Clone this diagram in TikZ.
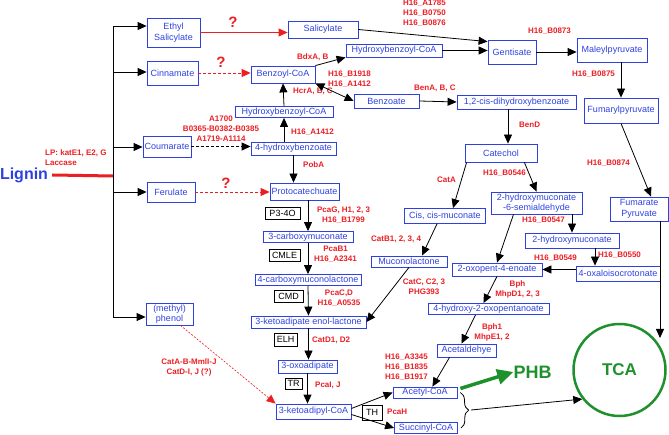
\documentclass[tikz,border=0pt]{standalone}
\usepackage{fontspec}
\setmainfont{Liberation Sans}
\usetikzlibrary{arrows.meta,positioning,decorations.pathreplacing}
\definecolor{metblue}{RGB}{45,65,225}
\definecolor{enzred}{RGB}{235,30,35}
\definecolor{tcagreen}{RGB}{30,145,45}

\begin{document}
\begin{tikzpicture}[x=1pt,y=-1pt,>={Triangle[length=9pt,width=8pt]},
	met/.style={draw=metblue,text=metblue,line width=0.8pt,inner sep=0pt,align=center,font=\fontsize{9}{10.5}\selectfont},
	cof/.style={draw=black,line width=0.6pt,inner sep=0pt,font=\fontsize{9}{10}\selectfont},
	enz/.style={text=enzred,inner sep=0pt,align=center,font=\bfseries\fontsize{8}{10}\selectfont},
	unk/.style={text=enzred,inner sep=0pt,font=\bfseries\fontsize{15}{15}\selectfont},
	flow/.style={->,line width=0.8pt},
	guess/.style={->,color=enzred,line width=0.8pt,dash pattern=on 3pt off 2pt}]
	\useasboundingbox (0,0) rectangle (669,435);

	\node[text=metblue,inner sep=0pt,font=\bfseries\fontsize{16}{16}\selectfont] (lignin) at (24,175) {Lignin};
	\node[met,minimum width=53pt,minimum height=29pt] (ethyl) at (173.5,32.5) {Ethyl\\Salicylate};
	\node[met,minimum width=51pt,minimum height=24pt] (cinn) at (172.5,73) {Cinnamate};
	\node[met,minimum width=48pt,minimum height=21pt] (coum) at (167,146.5) {Coumarate};
	\node[met,minimum width=48pt,minimum height=20pt] (ferul) at (171,192) {Ferulate};
	\node[met,minimum width=47pt,minimum height=22pt] (phenol) at (169.5,314) {(methyl)\\phenol};
	\node[met,minimum width=70pt,minimum height=17pt] (salic) at (323,29.5) {Salicylate};
	\node[met,minimum width=64pt,minimum height=17pt] (bzcoa) at (283,74.5) {Benzoyl-CoA};
	\node[met,minimum width=96pt,minimum height=13pt] (hbcoaA) at (394,50.5) {Hydroxybenzoyl-CoA};
	\node[met,minimum width=65pt,minimum height=14pt] (bzoate) at (386.5,101) {Benzoate};
	\node[met,minimum width=98pt,minimum height=11pt] (hbcoaB) at (284,112) {Hydroxybenzoyl-CoA};
	\node[met,minimum width=85pt,minimum height=13pt] (hba) at (293.5,148.5) {4-hydroxybenzoate};
	\node[met,minimum width=69pt,minimum height=17pt] (proto) at (304.5,191.5) {Protocatechuate};
	\node[met,minimum width=90pt,minimum height=11pt] (cmuc) at (308,237) {3-carboxymuconate};
	\node[met,minimum width=106pt,minimum height=11pt] (cmlac) at (308,280) {4-carboxymuconolactone};
	\node[met,minimum width=115pt,minimum height=12pt] (enol) at (308.5,322) {3-ketoadipate enol-lactone};
	\node[met,minimum width=59pt,minimum height=13pt] (oxo) at (307.5,366.5) {3-oxoadipate};
	\node[met,minimum width=75pt,minimum height=15pt] (kacoa) at (313.5,411.5) {3-ketoadipyl-CoA};
	\node[met,minimum width=64pt,minimum height=11pt] (accoa) at (425,392.5) {Acetyl-CoA};
	\node[met,minimum width=63pt,minimum height=11pt] (succoa) at (426,428) {Succinyl-CoA};
	\node[met,minimum width=48pt,minimum height=24pt] (gent) at (512,52) {Gentisate};
	\node[met,minimum width=70pt,minimum height=24pt] (maley) at (612,50) {Maleylpyruvate};
	\node[met,minimum width=74pt,minimum height=25pt] (fumaryl) at (621,110.5) {Fumarylpyruvate};
	\node[met,minimum width=119pt,minimum height=14pt] (dihb) at (516.5,102) {1,2-cis-dihydroxybenzoate};
	\node[met,minimum width=72pt,minimum height=18pt] (catechol) at (501,153) {Catechol};
	\node[met,minimum width=81pt,minimum height=15pt] (ccmuc) at (445,216) {Cis, cis-muconate};
	\node[met,minimum width=76pt,minimum height=11pt] (mlac) at (409,261.5) {Muconolactone};
	\node[met,minimum width=91pt,minimum height=22pt] (hmsa) at (536.5,203) {2-hydroxymuconate\\-6-semialdehyde};
	\node[met,minimum width=94pt,minimum height=15pt] (hmuc) at (572,240.5) {2-hydroxymuconate};
	\node[met,minimum width=84pt,minimum height=15pt] (oxalo) at (618,273.5) {4-oxaloisocrotonate};
	\node[met,minimum width=90pt,minimum height=13pt] (oxopent) at (497,269.5) {2-oxopent-4-enoate};
	\node[met,minimum width=121pt,minimum height=11pt] (hop) at (488.5,309) {4-hydroxy-2-oxopentanoate};
	\node[met,minimum width=59pt,minimum height=13pt] (acald) at (466.5,350.5) {Acetaldehye};
	\node[met,minimum width=58pt,minimum height=24pt] (fumpyr) at (639,209) {Fumarate\\Pyruvate};

	% enzyme boxes
	\node[cof,minimum width=35pt,minimum height=12pt] (p34o) at (282.5,213) {P3-4O};
	\node[cof,minimum width=31pt,minimum height=12pt] (cmle) at (284.5,255) {CMLE};
	\node[cof,minimum width=29pt,minimum height=12pt] (cmd) at (288.5,296) {CMD};
	\node[cof,minimum width=23pt,minimum height=13pt] (elh) at (285.5,339.5) {ELH};
	\node[cof,minimum width=17pt,minimum height=11pt] (tr) at (293.5,383.5) {TR};
	\node[cof,minimum width=20pt,minimum height=15pt] (th) at (372,412.5) {TH};

	\node[circle,draw=tcagreen,line width=2.5pt,minimum size=92pt,text=tcagreen,font=\bfseries\fontsize{17}{17}\selectfont] (tca) at (619.5,370) {TCA};
	\node[text=tcagreen,inner sep=0pt,font=\bfseries\fontsize{18}{18}\selectfont] (phb) at (532.5,372) {PHB};

	% gene labels
	\node[enz,anchor=west] (lpA) at (45,153) {LP: katE1, E2, G};
	\node[enz,anchor=west] (lpB) at (45,163) {Laccase};
	\node[unk] (qSal) at (233,22) {?};
	\node[unk] (qCin) at (221,62) {?};
	\node[unk] (qFer) at (226,183) {?};
	\node[enz] (enzCoum) at (221,129) {A1700\\B0365-B0382-B0385\\A1719-A1114};
	\node[enz,anchor=west,align=left] (enzGen) at (403,13) {H16\_A1785\\H16\_B0750\\H16\_B0876};
	\node[enz,anchor=west] (enzBdx) at (297,57) {BdxA, B};
	\node[enz,anchor=west,align=left] (enzBzo) at (328,79) {H16\_B1918\\H16\_A1412};
	\node[enz,anchor=west] (enzHcr) at (293,91) {HcrA, B, C};
	\node[enz,anchor=west] (enzBen) at (414,88) {BenA, B, C};
	\node[enz,anchor=west] (enzHba) at (291,132) {H16\_A1412};
	\node[enz,anchor=west] (enzMal) at (528,31) {H16\_B0873};
	\node[enz,anchor=west] (enzFum) at (572,74) {H16\_B0875};
	\node[enz,anchor=west] (enzBenD) at (519,125) {BenD};
	\node[enz,anchor=west] (enzPob) at (303,165) {PobA};
	\node[enz,anchor=west] (enzCatA) at (437,180) {CatA};
	\node[enz,anchor=west] (enzHmsa) at (483,173) {H16\_B0546};
	\node[enz,anchor=west] (enzFp) at (587,163) {H16\_B0874};
	\node[enz] (enzPcaG) at (343.5,215) {PcaG, H1, 2, 3\\H16\_B1799};
	\node[enz,anchor=west] (enzCatB) at (371,239) {CatB1, 2, 3, 4};
	\node[enz,anchor=west] (enzHmuc) at (522,220) {H16\_B0547};
	\node[enz] (enzPcaB) at (335.5,254.5) {PcaB1\\H16\_A2341};
	\node[enz,anchor=west] (enzOxo) at (534,258) {H16\_B0549};
	\node[enz,anchor=west] (enzOxa) at (598,255) {H16\_B0550};
	\node[enz] (enzCatC) at (424,287) {CatC, C2, 3\\PHG393};
	\node[enz] (enzMhpD) at (517.5,289) {Bph\\MhpD1, 2, 3};
	\node[enz] (enzPcaC) at (339,298) {PcaC,D\\H16\_A0535};
	\node[enz] (enzMhpE) at (492,332) {Bph1\\MhpE1, 2};
	\node[enz,anchor=west] (enzCatD) at (312,340) {CatD1, D2};
	\node[enz] (enzPhe) at (189,367.5) {CatA-B-MmlI-J\\CatD-I, J (?)};
	\node[enz,anchor=west,align=left] (enzAc) at (385,367) {H16\_A3345\\H16\_B1835\\H16\_B1917};
	\node[enz,anchor=west] (enzPcaI) at (315,385) {PcaI, J};
	\node[enz,anchor=west] (enzPcaH) at (387,412) {PcaH};

	% lignin tree
	\coordinate (tA) at (113,26);
	\coordinate (tB) at (113,72);
	\coordinate (tC) at (113,147);
	\coordinate (tL) at (113,176);
	\coordinate (tD) at (113,192);
	\coordinate (tE) at (113,317);
	\coordinate (fpEnd) at (660,338);
	\coordinate (brTip) at (471,410);
	\draw[line width=0.8pt] (tA) -- (tE);
	\draw[enzred,line width=3pt] ([xshift=4pt]lignin.east) -- (tL);

	\path[flow]
	(tA) edge (tA -| ethyl.west)
	(tB) edge (tB -| cinn.west)
	(tC) edge (tC -| coum.west)
	(tD) edge (tD -| ferul.west)
	(tE) edge (tE -| phenol.west)

	(salic.east) edge ([yshift=-2pt]gent.north west)
	(hbcoaA.east) edge (hbcoaA.east -| gent.west)
	(gent.east) edge (gent.east -| maley.west)
	(fumaryl.north |- maley.south) edge (fumaryl.north)
	(fumaryl.south) edge ([xshift=12pt]fumpyr.north)
	([xshift=21pt]fumpyr.south) edge (fpEnd)

	(bzcoa.north east) edge (hbcoaA.south west)
	(hbcoaB.north) edge (bzcoa.south)
	(hbcoaB.south |- hba.north) edge (hbcoaB.south)
	(hba.south) edge (hba.south |- proto.north)
	(cmuc.north |- proto.south) edge (cmuc.north)
	(cmuc.south) edge (cmlac.north)
	(cmlac.south) edge (enol.north)
	(enol.south) edge (enol.south |- oxo.north)
	(oxo.south) edge (oxo.south |- kacoa.north)
	([yshift=3pt]kacoa.east) edge (accoa.west)
	([yshift=-3pt]kacoa.east) edge (succoa.west)

	(bzoate.east) edge (dihb.west)
	([xshift=-8.5pt]dihb.south) edge ([xshift=7pt]catechol.north)
	([xshift=2pt]catechol.south west) edge ([xshift=8pt]ccmuc.north)
	([xshift=-13pt]catechol.south east) edge (hmsa.north)
	([xshift=-8pt]ccmuc.south) edge ([xshift=13pt]mlac.north)
	(mlac.south) edge (enol.east)
	(hmuc.north |- hmsa.south) edge (hmuc.north)
	([xshift=-23pt]hmsa.south) edge (oxopent.north)
	([xshift=23pt]hmuc.south) edge ([xshift=23pt]hmuc.south |- oxalo.north)
	(oxalo.west |- oxopent.east) edge (oxopent.east)
	(oxopent.south) edge ([xshift=-5pt]hop.north)
	([xshift=-13pt]hop.south) edge ([xshift=-5pt]acald.north)
	([xshift=-17pt]acald.south) edge ([xshift=-25pt]accoa.north east)
	(brTip) edge (tca.218)
	;

	\draw[<->,line width=0.8pt] (bzcoa.south east) -- (bzoate.west);
	\draw[flow,dash pattern=on 3pt off 2pt] (coum.east) -- (coum.east -| hba.west);
	\draw[->,color=enzred,line width=0.8pt] (ethyl.east) -- (ethyl.east -| salic.west);
	\path[guess]
	(cinn.east) edge (cinn.east -| bzcoa.west)
	(ferul.east) edge (ferul.east -| proto.west)
	;
	\draw[->,color=enzred,line width=0.6pt,dash pattern=on 2pt off 1.5pt] ([xshift=11pt]phenol.south) -- (kacoa.north west);
	\draw[decorate,decoration={brace,amplitude=8pt},line width=0.8pt] ([xshift=3pt]accoa.east) -- ([xshift=3pt]succoa.east);
	\draw[-{Triangle[length=16pt,width=15pt]},tcagreen,line width=3.5pt] ([shift={(3pt,4pt)}]accoa.east) -- (phb.west);
\end{tikzpicture}
\end{document}
